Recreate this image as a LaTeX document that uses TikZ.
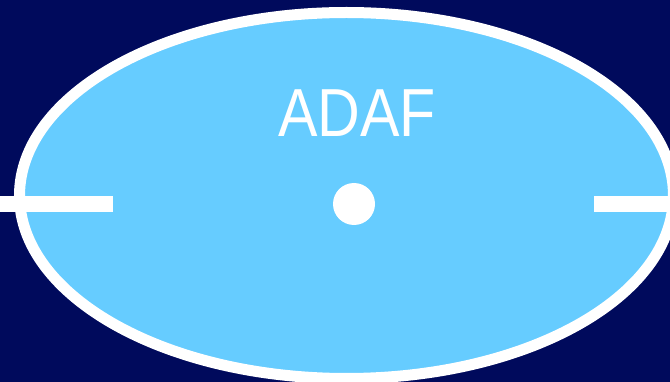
\documentclass[tikz,border=0pt]{standalone}
\usepackage{fontspec}
\setmainfont{Liberation Sans}
\definecolor{nightblue}{RGB}{0,10,92}
\definecolor{flowblue}{RGB}{102,204,255}

\begin{document}
\begin{tikzpicture}[x=1pt,y=-1pt,line cap=butt]
  % background, fixes the page to 670 x 382
  \fill[nightblue] (0,0) rectangle (670,382);
  \useasboundingbox (0,0) rectangle (670,382);
  % the hot flow
  \filldraw[fill=flowblue,draw=white,line width=11pt] (346.5,195.5) ellipse (327 and 183);
  % thin disc outside the truncation radius
  \fill[white] (0,196) rectangle (113,212);
  \fill[white] (594,196) rectangle (670,212);
  % the hole
  \fill[white] (354,204) circle (21);
  \node[text=white,font=\fontsize{68}{68}\selectfont,xscale=0.87,anchor=base,inner sep=0pt] (lbl) at (357,137) {ADAF};
\end{tikzpicture}
\end{document}
